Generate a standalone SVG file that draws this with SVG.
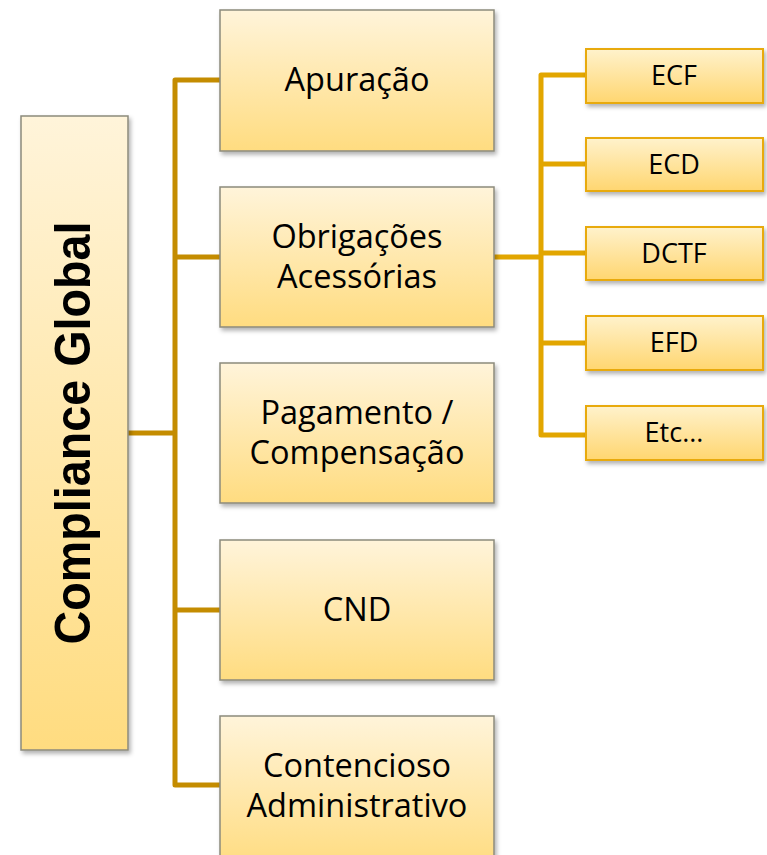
<svg xmlns="http://www.w3.org/2000/svg" width="767" height="855" viewBox="0 0 767 855">
<style>
.lvl1{fill:url(#g1);stroke:#8c8a7c;stroke-width:1.5}
.lvl2{fill:url(#g1);stroke:#8c8a7c;stroke-width:1.5}
.lvl3{fill:url(#g3);stroke:#e8aa10;stroke-width:2}
.c1{fill:none;stroke:#c48c00;stroke-width:5;stroke-linejoin:round}
.c2{fill:none;stroke:#e2a600;stroke-width:5;stroke-linejoin:round}
.t2{font-family:"Open Sans","Noto Sans",sans-serif;font-size:32.5px;fill:#000;text-anchor:middle}
.t3{font-family:"Open Sans","Noto Sans",sans-serif;font-size:27px;fill:#000;text-anchor:middle}
.t1{font-family:"Liberation Sans",Arial,sans-serif;font-size:50px;font-weight:bold;fill:#000;text-anchor:middle}
</style>
<defs>
<linearGradient id="g1" x1="0" y1="0" x2="0" y2="1"><stop offset="0" stop-color="#fff4da"/><stop offset="1" stop-color="#ffdc80"/></linearGradient>
<linearGradient id="g3" x1="0" y1="0" x2="0" y2="1"><stop offset="0" stop-color="#fff2cc"/><stop offset="1" stop-color="#ffd670"/></linearGradient>
<filter id="sh" x="-10%" y="-10%" width="130%" height="130%"><feDropShadow dx="2" dy="3" stdDeviation="2" flood-color="#000" flood-opacity="0.3"/></filter>
</defs>
<g id="connectors">
<path class="c1" d="M128 433H175M220 80H175V785H220M175 257H220M175 610H220"/>
<path class="c2" d="M494 257H541M586 75H541V435H586M541 164H586M541 253H586M541 343H586"/>
</g>
<g id="compliance-global"><rect class="lvl1" x="21" y="116" width="107" height="634" filter="url(#sh)"/><text class="t1" transform="translate(90 433) rotate(-90)" textLength="423" lengthAdjust="spacingAndGlyphs">Compliance Global</text></g>
<g id="apuracao"><rect class="lvl2" x="220" y="10" width="274" height="141" filter="url(#sh)"/><text class="t2" x="357" y="91">Apuração</text></g>
<g id="obrigacoes"><rect class="lvl2" x="220" y="187" width="274" height="140" filter="url(#sh)"/><text class="t2" x="357" y="248">Obrigações</text><text class="t2" x="357" y="288">Acessórias</text></g>
<g id="pagamento"><rect class="lvl2" x="220" y="363" width="274" height="140" filter="url(#sh)"/><text class="t2" x="357" y="424">Pagamento /</text><text class="t2" x="357" y="464">Compensação</text></g>
<g id="cnd"><rect class="lvl2" x="220" y="540" width="274" height="140" filter="url(#sh)"/><text class="t2" x="357" y="621">CND</text></g>
<g id="contencioso"><rect class="lvl2" x="220" y="716" width="274" height="150" filter="url(#sh)"/><text class="t2" x="357" y="777">Contencioso</text><text class="t2" x="357" y="817">Administrativo</text></g>
<g id="ecf"><rect class="lvl3" x="586" y="49" width="177" height="54" filter="url(#sh)"/><text class="t3" x="674" y="85">ECF</text></g>
<g id="ecd"><rect class="lvl3" x="586" y="138" width="177" height="53" filter="url(#sh)"/><text class="t3" x="674" y="174">ECD</text></g>
<g id="dctf"><rect class="lvl3" x="586" y="227" width="177" height="53" filter="url(#sh)"/><text class="t3" x="674" y="263">DCTF</text></g>
<g id="efd"><rect class="lvl3" x="586" y="316" width="177" height="54" filter="url(#sh)"/><text class="t3" x="674" y="352">EFD</text></g>
<g id="etc"><rect class="lvl3" x="586" y="406" width="177" height="54" filter="url(#sh)"/><text class="t3" x="674" y="442">Etc...</text></g>
</svg>
